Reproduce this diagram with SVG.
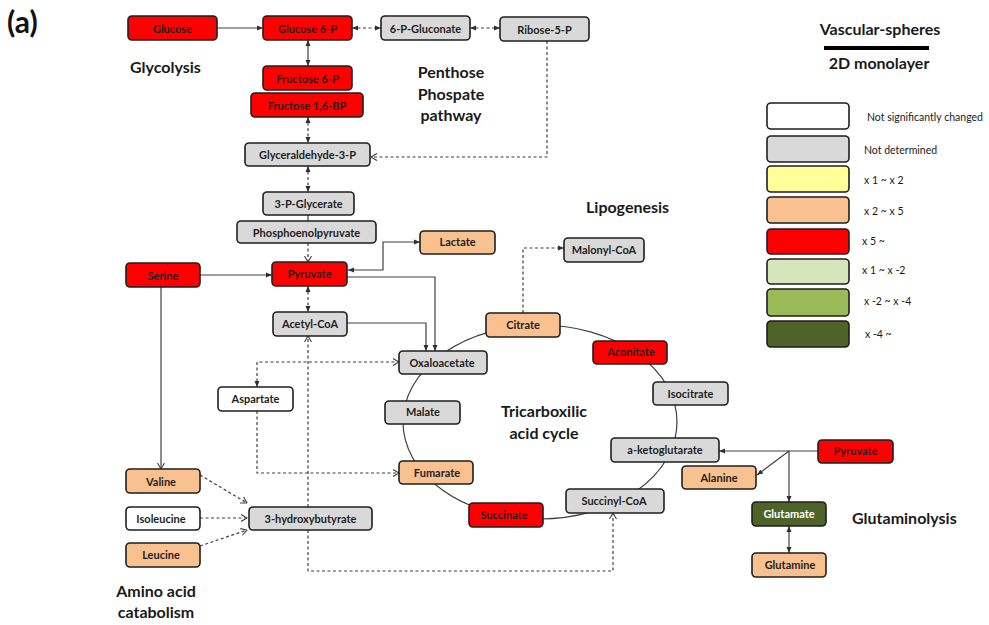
<svg xmlns="http://www.w3.org/2000/svg" width="989" height="625" viewBox="0 0 989 625">
<style>
.n rect{stroke:#1e1e1e;stroke-width:1.6}
.n text{font-family:Lato,"Liberation Sans",sans-serif;font-weight:bold;font-size:11px;fill:#1e1e1e;text-anchor:middle;dominant-baseline:central}
.red{fill:#ff0000}.gry{fill:#d9d9d9}.org{fill:#f9c090}.wht{fill:#ffffff}.yel{fill:#ffff99}.lg{fill:#d8e4bc}.mg{fill:#9bbb59}.dg{fill:#4f6228}
.c path,.c ellipse{fill:none;stroke:#404040;stroke-width:1.2}
.c .d{stroke-dasharray:3,2.5}
.h{font-family:Lato,"Liberation Sans",sans-serif;font-weight:bold;font-size:16px;fill:#1a1a1a}
.lt{font-family:Lato,"Liberation Sans",sans-serif;font-size:10.5px;fill:#1a1a1a;dominant-baseline:central}
</style>
<defs>
<marker id="af" viewBox="0 0 6 6" refX="6" refY="3" markerWidth="6" markerHeight="6" markerUnits="userSpaceOnUse" orient="auto-start-reverse"><path d="M0,0.5 L6,3 L0,5.5 z" fill="#303030"/></marker>
<marker id="ao" viewBox="0 0 7 8" refX="6.5" refY="4" markerWidth="7" markerHeight="8" markerUnits="userSpaceOnUse" orient="auto"><path d="M0.5,0.5 L6.5,4 L0.5,7.5" fill="none" stroke="#404040" stroke-width="1.1"/></marker>
</defs>
<rect width="989" height="625" fill="#ffffff"/>
<g class="c" id="connectors">
<ellipse cx="540" cy="422" rx="137" ry="97"/>
<path d="M217,28 H263" marker-end="url(#af)"/>
<path class="d" d="M352,28 H381" marker-start="url(#af)" marker-end="url(#af)"/>
<path class="d" d="M470,28 H500" marker-start="url(#af)" marker-end="url(#af)"/>
<path class="d" d="M547,41 V157 H371" marker-end="url(#ao)"/>
<path d="M308,40 V66" marker-start="url(#af)" marker-end="url(#af)"/>
<path class="d" d="M308,117 V143" marker-start="url(#af)" marker-end="url(#af)"/>
<path class="d" d="M308,166 V192" marker-start="url(#af)" marker-end="url(#af)"/>
<path d="M308,215 V221"/>
<path class="d" d="M308,243 V262" marker-end="url(#ao)"/>
<path d="M200,275 H272" marker-end="url(#af)"/>
<path d="M161,287 V469" marker-end="url(#ao)"/>
<path class="d" d="M308,286 V312" marker-start="url(#af)" marker-end="url(#af)"/>
<path d="M348,270 H383 V242 H420" marker-start="url(#af)" marker-end="url(#af)"/>
<path d="M347,277 H435 V351" marker-end="url(#af)"/>
<path d="M347,323 H426 V351" marker-end="url(#af)"/>
<path class="d" d="M257,387 V362 H399" marker-start="url(#af)" marker-end="url(#ao)"/>
<path class="d" d="M257,411 V473 H399" marker-end="url(#ao)"/>
<path class="d" d="M308,507 V336" marker-end="url(#ao)"/>
<path class="d" d="M308,530 V571 H613 V513" marker-end="url(#ao)"/>
<path class="d" d="M200,475 L247,503" marker-end="url(#ao)"/>
<path class="d" d="M200,518 H247" marker-end="url(#ao)"/>
<path class="d" d="M200,546 L247,530" marker-end="url(#ao)"/>
<path class="d" d="M523,313 V248 H564" marker-end="url(#af)"/>
<path d="M818,451 H719" marker-end="url(#af)"/>
<path d="M789,451 V502" marker-end="url(#af)"/>
<path d="M789,451 L757,475" marker-end="url(#af)"/>
<path d="M789,526 V553" marker-start="url(#af)" marker-end="url(#af)"/>
</g>
<g class="n" id="glucose"><rect class="red" x="128" y="16" width="89" height="24" rx="4"/><text x="172.5" y="28">Glucose</text></g>
<g class="n" id="glucose6p"><rect class="red" x="263" y="16" width="89" height="24" rx="4"/><text x="307.5" y="28">Glucose 6-P</text></g>
<g class="n" id="gluconate6p"><rect class="gry" x="381" y="16" width="89" height="24" rx="4"/><text x="425.5" y="28">6-P-Gluconate</text></g>
<g class="n" id="ribose5p"><rect class="gry" x="500" y="17" width="89" height="24" rx="4"/><text x="544.5" y="29">Ribose-5-P</text></g>
<g class="n" id="fructose6p"><rect class="red" x="263" y="66" width="89" height="24" rx="4"/><text x="307.5" y="78">Fructose 6-P</text></g>
<g class="n" id="fructose16bp"><rect class="red" x="251" y="93" width="112" height="24" rx="4"/><text x="307" y="105">Fructose 1,6-BP</text></g>
<g class="n" id="glyceraldehyde3p"><rect class="gry" x="245" y="143" width="125" height="23" rx="4"/><text x="307.5" y="154.5">Glyceraldehyde-3-P</text></g>
<g class="n" id="glycerate3p"><rect class="gry" x="263" y="192" width="91" height="23" rx="4"/><text x="308.5" y="203.5">3-P-Glycerate</text></g>
<g class="n" id="pep"><rect class="gry" x="237" y="221" width="139" height="22" rx="4"/><text x="306.5" y="232">Phosphoenolpyruvate</text></g>
<g class="n" id="pyruvate"><rect class="red" x="272" y="262" width="75" height="24" rx="4"/><text x="309.5" y="273">Pyruvate</text></g>
<g class="n" id="serine"><rect class="red" x="126" y="263" width="74" height="24" rx="4"/><text x="163" y="275">Serine</text></g>
<g class="n" id="acetylcoa"><rect class="gry" x="273" y="312" width="74" height="24" rx="4"/><text x="310" y="323">Acetyl-CoA</text></g>
<g class="n" id="lactate"><rect class="org" x="420" y="231" width="75" height="23" rx="4"/><text x="457.5" y="241.5">Lactate</text></g>
<g class="n" id="malonylcoa"><rect class="gry" x="564" y="238" width="80" height="24" rx="4"/><text x="604" y="249.5">Malonyl-CoA</text></g>
<g class="n" id="citrate"><rect class="org" x="486" y="313" width="74" height="24" rx="4"/><text x="523" y="324.5">Citrate</text></g>
<g class="n" id="aconitate"><rect class="red" x="593" y="341" width="74" height="23" rx="4"/><text x="631" y="351.5">Aconitate</text></g>
<g class="n" id="oxaloacetate"><rect class="gry" x="399" y="351" width="88" height="23" rx="4"/><text x="442" y="362">Oxaloacetate</text></g>
<g class="n" id="isocitrate"><rect class="gry" x="653" y="382" width="75" height="23" rx="4"/><text x="690.5" y="393">Isocitrate</text></g>
<g class="n" id="aketoglutarate"><rect class="gry" x="611" y="438" width="108" height="24" rx="4"/><text x="665" y="449.5">a-ketoglutarate</text></g>
<g class="n" id="pyruvate2"><rect class="red" x="818" y="440" width="75" height="23" rx="4"/><text x="855.5" y="450.5">Pyruvate</text></g>
<g class="n" id="alanine"><rect class="org" x="682" y="466" width="74" height="23" rx="4"/><text x="719" y="477">Alanine</text></g>
<g class="n" id="glutamate"><rect class="dg" x="752" y="502" width="74" height="24" rx="4"/><text x="789" y="513.5" style="fill:#ffffff">Glutamate</text></g>
<g class="n" id="glutamine"><rect class="org" x="752" y="553" width="74" height="24" rx="4"/><text x="790" y="564">Glutamine</text></g>
<g class="n" id="succinylcoa"><rect class="gry" x="566" y="489" width="98" height="24" rx="4"/><text x="614" y="500.5">Succinyl-CoA</text></g>
<g class="n" id="succinate"><rect class="red" x="469" y="503" width="74" height="24" rx="4"/><text x="504" y="514.5">Succinate</text></g>
<g class="n" id="fumarate"><rect class="org" x="399" y="461" width="74" height="23" rx="4"/><text x="437" y="472">Fumarate</text></g>
<g class="n" id="malate"><rect class="gry" x="385" y="401" width="75" height="23" rx="4"/><text x="423" y="411.5">Malate</text></g>
<g class="n" id="aspartate"><rect class="wht" x="218" y="387" width="75" height="24" rx="4"/><text x="255.5" y="398.5">Aspartate</text></g>
<g class="n" id="valine"><rect class="org" x="126" y="469" width="74" height="24" rx="4"/><text x="161" y="481">Valine</text></g>
<g class="n" id="isoleucine"><rect class="wht" x="126" y="507" width="74" height="23" rx="4"/><text x="161" y="518">Isoleucine</text></g>
<g class="n" id="leucine"><rect class="org" x="126" y="543" width="74" height="24" rx="4"/><text x="161" y="554">Leucine</text></g>
<g class="n" id="hydroxybutyrate"><rect class="gry" x="249" y="507" width="123" height="23" rx="4"/><text x="310.5" y="518">3-hydroxybutyrate</text></g>
<g id="headings">
<text x="7" y="33" style="font-family:Lato,'Liberation Sans',sans-serif;font-weight:bold;font-size:30px;fill:#111">(a)</text>
<text class="h" x="130" y="73">Glycolysis</text>
<text class="h" x="451" y="78" text-anchor="middle">Penthose</text>
<text class="h" x="451" y="100" text-anchor="middle">Phospate</text>
<text class="h" x="451" y="121" text-anchor="middle">pathway</text>
<text class="h" x="586" y="213">Lipogenesis</text>
<text class="h" x="544" y="417" text-anchor="middle">Tricarboxilic</text>
<text class="h" x="544" y="439" text-anchor="middle">acid cycle</text>
<text class="h" x="852" y="524">Glutaminolysis</text>
<text class="h" x="156" y="597" text-anchor="middle">Amino acid</text>
<text class="h" x="156" y="618" text-anchor="middle">catabolism</text>
<text class="h" x="880" y="35" text-anchor="middle">Vascular-spheres</text>
<rect x="824" y="46" width="105" height="4" fill="#000"/>
<text class="h" x="879" y="69" text-anchor="middle">2D monolayer</text>
</g>
<g id="legend" class="n">
<rect class="wht" x="767" y="103" width="82" height="26" rx="4"/>
<rect class="gry" x="767" y="136" width="82" height="26" rx="4"/>
<rect class="yel" x="767" y="166" width="82" height="26" rx="4"/>
<rect class="org" x="767" y="197" width="82" height="26" rx="4"/>
<rect class="red" x="767" y="229" width="82" height="25" rx="4"/>
<rect class="lg" x="767" y="259" width="82" height="25" rx="4"/>
<rect class="mg" x="767" y="289" width="82" height="27" rx="4"/>
<rect class="dg" x="767" y="321" width="82" height="26" rx="4"/>
</g>
<g id="legend-text">
<text class="lt" x="867" y="117">Not significantly changed</text>
<text class="lt" x="864" y="150">Not determined</text>
<text class="lt" x="864" y="180">x 1 ~ x 2</text>
<text class="lt" x="864" y="211">x 2 ~ x 5</text>
<text class="lt" x="862" y="241">x 5 ~</text>
<text class="lt" x="862" y="270">x 1 ~ x -2</text>
<text class="lt" x="864" y="301">x -2 ~ x -4</text>
<text class="lt" x="865" y="334">x -4 ~</text>
</g>
</svg>
